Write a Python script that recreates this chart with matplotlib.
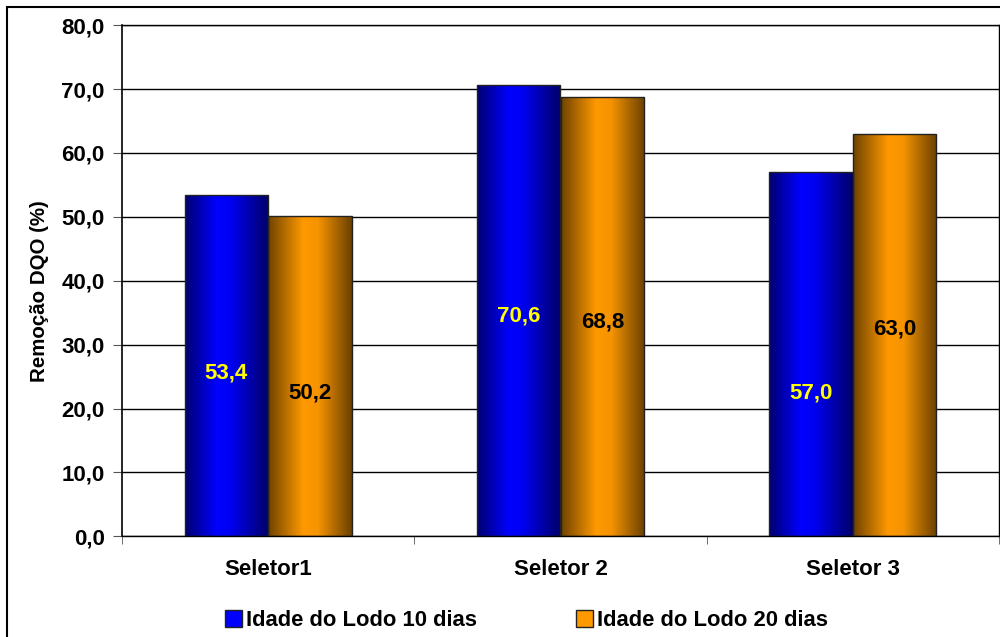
import numpy as np
import matplotlib
matplotlib.use("Agg")
import matplotlib.pyplot as plt
from matplotlib.colors import LinearSegmentedColormap
from matplotlib.patches import Rectangle, Patch

categories = ["Seletor1", "Seletor 2", "Seletor 3"]
series_names = ["Idade do Lodo 10 dias", "Idade do Lodo 20 dias"]
lodo10 = [53.4, 70.6, 57.0]
lodo20 = [50.2, 68.8, 63.0]
yticks = [0, 10, 20, 30, 40, 50, 60, 70, 80]
# vertical placement of the value labels (data units, as placed in the original)
label_y10 = [25.6, 34.5, 22.5]
label_y20 = [22.5, 33.6, 32.5]

plt.rcParams['font.family'] = ['Liberation Sans', 'DejaVu Sans']
plt.rcParams['font.weight'] = 'bold'

fig = plt.figure(figsize=(10, 6.37), dpi=100)
ax = fig.add_axes([0.122, 0.158, 0.877, 0.8025])

x = np.arange(len(categories))
w = 0.2857
cmap_blue = LinearSegmentedColormap.from_list("b", [(0, "#000070"), (0.38, "#0000FF"), (0.55, "#0000F0"), (1, "#000068")])
cmap_orange = LinearSegmentedColormap.from_list("o", [(0, "#6E4200"), (0.42, "#FF9900"), (0.6, "#F59300"), (1, "#6A4000")])
grad = np.linspace(0, 1, 256).reshape(1, -1)

bars1 = ax.bar(x - w/2, lodo10, w, facecolor="none", edgecolor="#222222", linewidth=1, zorder=3)
bars2 = ax.bar(x + w/2, lodo20, w, facecolor="none", edgecolor="#222222", linewidth=1, zorder=3)
for bars, cm in ((bars1, cmap_blue), (bars2, cmap_orange)):
    for b in bars:
        x0, y0 = b.get_x(), b.get_y()
        im = ax.imshow(grad, cmap=cm, aspect='auto', extent=[x0, x0 + b.get_width(), y0, y0 + b.get_height()], zorder=2)
        im.set_clip_path(b)

fs = 16
for b, v, ly in zip(bars1, lodo10, label_y10):
    ax.text(b.get_x() + b.get_width()/2, ly, f"{v:.1f}".replace('.', ','), ha='center', va='center',
            color='#FFFF00', fontsize=fs, fontweight='bold', zorder=4)
for b, v, ly in zip(bars2, lodo20, label_y20):
    ax.text(b.get_x() + b.get_width()/2, ly, f"{v:.1f}".replace('.', ','), ha='center', va='center',
            color='black', fontsize=fs, fontweight='bold', zorder=4)

ax.set_xlim(-0.5, 2.5)
ax.set_ylim(0, 80)
ax.set_yticks(yticks)
ax.set_yticklabels([f"{t:.1f}".replace('.', ',') for t in yticks], fontsize=fs, fontweight='bold')
ax.yaxis.grid(True, color='black', linewidth=1, zorder=0)
ax.set_axisbelow(True)
ax.set_xticks(x)
ax.set_xticklabels(categories, fontsize=fs, fontweight='bold')
ax.tick_params(axis='x', length=0, pad=16)
ax.set_xticks([-0.5, 0.5, 1.5, 2.5], minor=True)
ax.tick_params(axis='x', which='minor', length=6, direction='out', color='#555555')
ax.tick_params(axis='y', length=6.5, direction='out', color='#555555', pad=6)
ax.set_ylabel("Remoção DQO (%)", fontsize=14.8, fontweight='bold')
ax.yaxis.set_label_coords(-0.0835, 0.48)
for s in ax.spines.values():
    s.set_color('black')
    s.set_linewidth(1)
ax.spines['left'].set_linewidth(1.2)

handles = [Patch(facecolor="#0000FF", edgecolor="#222222", label=series_names[0]),
           Patch(facecolor="#FF9900", edgecolor="#222222", label=series_names[1])]
fig.legend(handles=handles, loc='center', bbox_to_anchor=(0.5265, 0.026), ncol=2, frameon=False,
           prop={'size': 15.8, 'weight': 'bold'}, handlelength=0.78, handleheight=0.82, handletextpad=0.18,
           columnspacing=4.5, borderpad=0)

fig.add_artist(Rectangle((0.007, -0.1), 1.1, 1.1 - 0.011, transform=fig.transFigure, fill=False,
                         edgecolor='black', linewidth=1.5))

fig.savefig("out.png", dpi=100)
